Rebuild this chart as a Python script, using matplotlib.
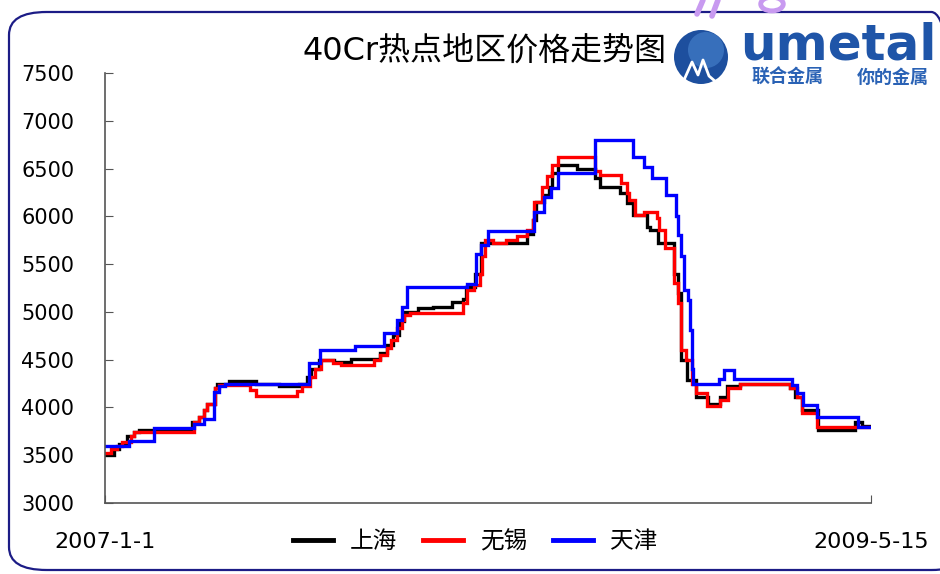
import matplotlib
matplotlib.use("Agg")
import matplotlib.pyplot as plt
from matplotlib.patches import FancyBboxPatch, Circle
from matplotlib.lines import Line2D

plt.rcParams['font.family'] = ['DejaVu Sans', 'Noto Sans CJK SC']

# 数据: 距 2007-1-1 的天数 / 价格 (元/吨), 阶梯式
sh_day = [0, 10, 16, 25, 33, 38, 98, 106, 112, 115, 124, 127, 140, 171, 197, 219, 228, 233, 242,
          259, 278, 310, 319, 325, 332, 338, 353, 370, 392, 404, 408, 418, 425, 476, 483, 487, 496,
          501, 505, 511, 533, 553, 559, 581, 589, 596, 612, 615, 624, 643, 647, 651, 657, 667, 681,
          694, 702, 717, 773, 779, 787, 805, 847, 855, 865]
sh_price = [3500, 3570, 3620, 3700, 3740, 3760, 3850, 3900, 3970, 4040, 4200, 4250, 4280, 4250, 4220,
            4250, 4320, 4400, 4500, 4480, 4510, 4570, 4650, 4760, 4900, 5000, 5040, 5050, 5100, 5140,
            5260, 5400, 5720, 5820, 5960, 6150, 6220, 6310, 6450, 6540, 6500, 6400, 6310, 6240, 6140,
            6010, 5890, 5860, 5720, 5400, 5200, 4500, 4290, 4110, 4040, 4110, 4220, 4250, 4200, 4110,
            3970, 3760, 3850, 3810, 3810]

wx_day = [0, 7, 14, 19, 29, 33, 100, 106, 112, 115, 124, 129, 164, 170, 217, 222, 231, 237, 244,
          257, 267, 304, 310, 319, 323, 330, 335, 338, 344, 404, 409, 417, 423, 426, 429, 438, 453,
          465, 477, 483, 485, 494, 499, 505, 511, 553, 559, 583, 589, 592, 598, 609, 623, 626, 632,
          643, 647, 651, 656, 663, 667, 680, 695, 703, 717, 773, 781, 787, 804, 865]
wx_price = [3520, 3570, 3600, 3640, 3700, 3740, 3850, 3900, 3970, 4040, 4200, 4240, 4180, 4120, 4170,
            4220, 4320, 4400, 4500, 4470, 4440, 4500, 4550, 4620, 4710, 4830, 4920, 4970, 4990, 5090,
            5230, 5280, 5400, 5580, 5750, 5720, 5750, 5790, 5860, 5960, 6150, 6310, 6420, 6540, 6620,
            6470, 6430, 6350, 6240, 6170, 6010, 6050, 5980, 5860, 5670, 5300, 5090, 4600, 4500, 4250,
            4150, 4010, 4080, 4200, 4245, 4200, 4110, 3940, 3800, 3800]

tj_day = [0, 27, 55, 101, 112, 123, 129, 135, 230, 243, 282, 315, 330, 335, 341, 409, 419, 425, 432,
          485, 496, 504, 511, 553, 596, 609, 618, 633, 645, 647, 651, 654, 658, 661, 663, 664, 693,
          699, 710, 776, 782, 788, 804, 850, 865]
tj_price = [3600, 3650, 3780, 3830, 3880, 4160, 4220, 4250, 4460, 4600, 4640, 4780, 4920, 5050, 5260,
            5290, 5610, 5700, 5850, 6050, 6200, 6300, 6450, 6800, 6620, 6520, 6400, 6220, 6000, 5800,
            5580, 5230, 5120, 4810, 4400, 4250, 4300, 4390, 4300, 4230, 4150, 4030, 3900, 3800, 3800]

series_names = ['上海', '无锡', '天津']
series_colors = ['#000000', '#ff0000', '#0000ff']
y_ticks = [3000, 3500, 4000, 4500, 5000, 5500, 6000, 6500, 7000, 7500]
x_labels = ['2007-1-1', '2009-5-15']
total_days = 865

W, H = 940, 574
fig = plt.figure(figsize=(W / 100, H / 100), dpi=100)
fig.patch.set_facecolor('white')

# 圆角外框
frame = FancyBboxPatch((9 / W, 1 - 570 / H), 960 / W, 558 / H,
                       boxstyle="round,pad=0,rounding_size=0.04",
                       transform=fig.transFigure, facecolor='none',
                       edgecolor='#1c1c86', linewidth=1.6, zorder=-1)
fig.patches.append(frame)

# 顶部紫色装饰笔画
for xs, ys in [([703, 697], [0, 14]), ([718, 712], [0, 16])]:
    fig.lines.append(Line2D([x / W for x in xs], [1 - y / H for y in ys],
                            transform=fig.transFigure, color='#c89af0', lw=4,
                            solid_capstyle='round'))
fig.patches.append(Circle((772 / W, 1 - 4 / H), 0.012, transform=fig.transFigure,
                          facecolor='none', edgecolor='#c89af0', lw=3.5))

ax = fig.add_axes([105 / W, 1 - 503 / H, 766 / W, 430 / H])
ax.patch.set_alpha(0)
data = [(sh_day, sh_price), (wx_day, wx_price), (tj_day, tj_price)]
for (d, p), name, c in zip(data, series_names, series_colors):
    ax.step(d, p, where='post', color=c, lw=2.4, label=name, solid_joinstyle='miter')

ax.set_xlim(0, total_days)
ax.set_ylim(3000, 7500)
ax.set_yticks(y_ticks)
ax.set_yticklabels([str(v) for v in y_ticks], fontsize=15)
ax.set_xticks([0, total_days])
ax.set_xticklabels(x_labels, fontsize=16)
ax.tick_params(axis='y', direction='in', length=6, pad=22, colors='#555555', labelcolor='black')
ax.tick_params(axis='x', direction='in', length=6, pad=21, colors='#555555', labelcolor='black')
for s in ['top', 'right']:
    ax.spines[s].set_visible(False)
for s in ['left', 'bottom']:
    ax.spines[s].set_color('#555555')
    ax.spines[s].set_linewidth(1.2)

fig.text(485 / W, 1 - 51 / H, '40Cr热点地区价格走势图', ha='center', va='center',
         fontsize=23, color='black')

handles = [Line2D([], [], color=c, lw=3.5) for c in series_colors]
fig.legend(handles, series_names, loc='center', bbox_to_anchor=(475 / W, 1 - 541 / H),
           ncol=3, frameon=False, fontsize=17, handlelength=1.7, handletextpad=0.7,
           columnspacing=1.1)

# umetal 标志
lg = fig.add_axes([670 / W, 1 - 92 / H, 270 / W, 67 / H])
lg.set_xlim(670, 940)
lg.set_ylim(92, 25)
lg.axis('off')
lg.add_patch(Circle((701, 57), 27, facecolor='#1d4f9e', edgecolor='none'))
lg.add_patch(Circle((706, 50), 18, facecolor='#4a86d0', edgecolor='none', alpha=0.6))
lg.plot([684, 692, 698, 703, 709, 716], [80, 62, 75, 60, 76, 82], color='white', lw=2)
lg.text(838, 45, 'umetal', ha='center', va='center', fontsize=36, fontweight='bold',
        color='#1f55a8', family='DejaVu Sans')
lg.text(788, 77, '联合金属', ha='center', va='center', fontsize=13, fontweight='bold',
        color='#2a62b5', family='Noto Sans CJK SC')
lg.text(893, 77, '你的金属', ha='center', va='center', fontsize=13, fontweight='bold',
        color='#2a62b5', family='Noto Sans CJK SC')

fig.savefig('out.png', dpi=100, facecolor='white')
